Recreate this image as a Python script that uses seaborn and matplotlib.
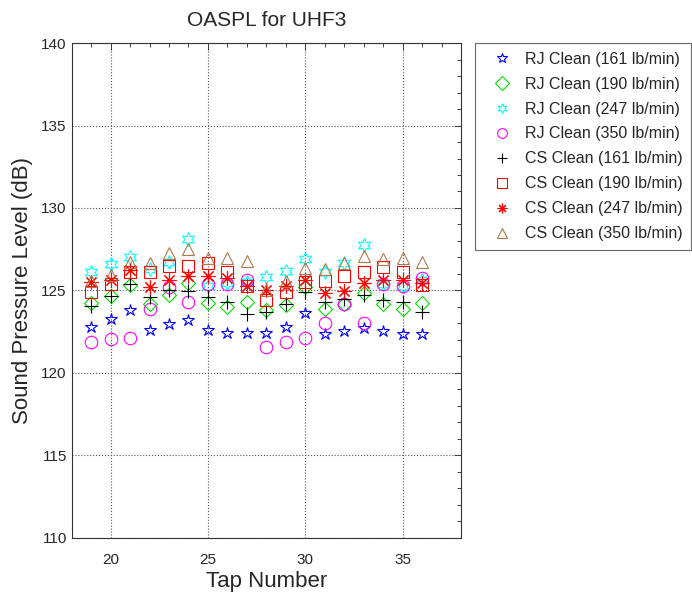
import numpy as np
import pandas as pd
import matplotlib
matplotlib.use("Agg")
import matplotlib.pyplot as plt
import seaborn as sns

taps = list(range(19, 37))

rj_161 = [122.8, 123.3, 123.8, 122.6, 122.95, 123.2, 122.6, 122.45, 122.4, 122.45, 122.8, 123.65, 122.35, 122.55, 122.75, 122.55, 122.35, 122.35]
rj_190 = [124.25, 124.65, 125.35, 124.2, 124.7, 125.45, 124.25, 124.0, 124.3, 123.8, 124.1, 125.2, 123.9, 124.2, 124.85, 124.2, 123.9, 124.25]
rj_247 = [126.15, 126.6, 127.0, 126.3, 126.7, 128.15, 125.3, 125.45, 125.5, 125.8, 126.2, 126.9, 126.15, 126.65, 127.75, 125.4, 125.3, 125.65]
rj_350 = [121.9, 122.05, 122.15, 123.9, 125.2, 124.3, 125.4, 125.4, 125.65, 121.55, 121.9, 122.1, 123.0, 124.2, 123.0, 125.4, 125.25, 125.75]
cs_161 = [124.05, 124.65, 125.4, 124.6, 125.0, 124.95, 124.6, 124.3, 123.6, 123.7, 124.2, 124.9, 124.3, 124.5, 124.7, 124.4, 124.3, 123.7]
cs_190 = [124.9, 125.4, 126.15, 126.1, 126.5, 126.5, 126.65, 126.15, 125.25, 124.4, 124.9, 125.5, 125.55, 125.85, 126.1, 126.4, 126.15, 125.35]
cs_247 = [125.5, 125.65, 126.25, 125.2, 125.65, 125.9, 125.85, 125.75, 125.25, 125.05, 125.25, 125.65, 124.85, 124.95, 125.45, 125.65, 125.65, 125.45]
cs_350 = [125.6, 125.95, 126.75, 126.65, 127.3, 127.5, 126.95, 126.95, 126.8, 125.05, 125.55, 126.35, 126.3, 126.65, 127.1, 126.9, 126.95, 126.75]

labels = ["RJ Clean (161 lb/min)", "RJ Clean (190 lb/min)", "RJ Clean (247 lb/min)", "RJ Clean (350 lb/min)",
          "CS Clean (161 lb/min)", "CS Clean (190 lb/min)", "CS Clean (247 lb/min)", "CS Clean (350 lb/min)"]
series = [rj_161, rj_190, rj_247, rj_350, cs_161, cs_190, cs_247, cs_350]

colors = ["#0000ff", "#00e000", "#00ffff", "#ff00ff", "#000000", "#ff0000", "#ff0000", "#b0784a"]
markers = ["*", "D", (6, 1, 0), "o", "+", "s", (8, 2, 0), "^"]
sizes = [9, 7, 10, 9, 10, 8, 10, 9]

sns.set_style("white")
plt.rcParams["font.family"] = ["Liberation Sans", "DejaVu Sans"]

fig = plt.figure(figsize=(6.92, 5.94), dpi=100)
ax = fig.add_axes([0.1036, 0.0943, 0.5626, 0.8333])

# one call per series so each keeps its own hollow marker
for lab, vals, c, m, s in zip(labels, series, colors, markers, sizes):
    df = pd.DataFrame({"tap": taps, "spl": vals})
    sns.lineplot(data=df, x="tap", y="spl", color=c, linestyle="none", label=lab, ax=ax,
                 marker=m, markersize=s, markeredgewidth=0.8, markeredgecolor=c,
                 markerfacecolor="none")

ax.set_xlim(18, 38)
ax.set_ylim(110, 140)
ax.set_xticks([20, 25, 30, 35])
ax.set_xticks(range(18, 39), minor=True)
ax.set_yticks([110, 115, 120, 125, 130, 135, 140])
ax.set_yticks(range(110, 141), minor=True)
ax.tick_params(which="both", direction="in", top=True, right=True, labelsize=11, width=0.6)
ax.tick_params(which="major", length=5)
ax.tick_params(which="minor", length=3)
ax.tick_params(axis="x", which="both", pad=11)
ax.grid(True, which="major", linestyle=":", color="#555555", linewidth=0.8)
for sp in ax.spines.values():
    sp.set_color("#333333")
    sp.set_linewidth(0.8)

ax.set_xlabel("Tap Number", fontsize=16, labelpad=3)
ax.set_ylabel("Sound Pressure Level (dB)", fontsize=16, labelpad=6)
ax.set_title("OASPL for UHF3", fontsize=15, pad=12)

leg = ax.legend(loc="upper left", bbox_to_anchor=(1.037, 1.0), borderaxespad=0, fontsize=11.5,
                frameon=True, fancybox=False, edgecolor="#444444", borderpad=0.55,
                labelspacing=0.62, handlelength=2.2, handletextpad=0.35)
leg.get_frame().set_linewidth(0.8)
for h in leg.legend_handles:
    h.set_markersize(7)

fig.savefig("out.png", dpi=100)
